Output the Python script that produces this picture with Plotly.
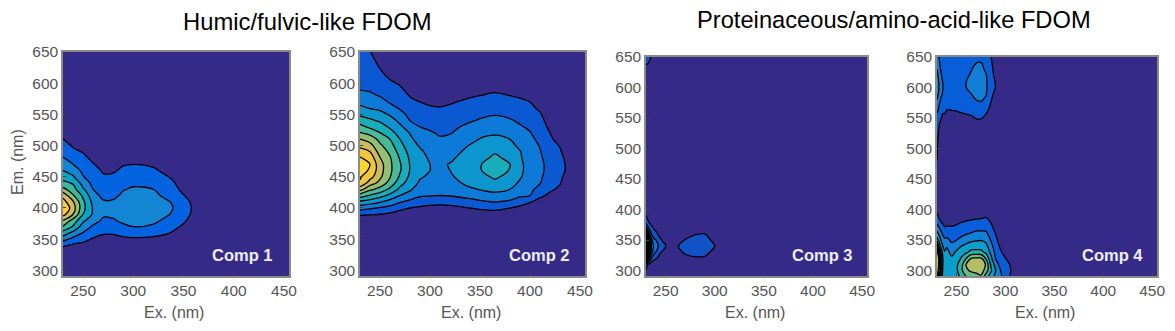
import plotly.graph_objects as go

W = 1175
H = 331

parula = [[0, "#352a87"], [0.1, "#0363e1"], [0.2, "#1485d4"], [0.3, "#06a7c6"], [0.4, "#38b99e"],
          [0.5, "#92bf73"], [0.6, "#d9ba56"], [0.7, "#fcce2e"], [0.85, "#f5e826"], [1, "#f9fb0e"]]

tick_vals_x = [250, 300, 350, 400, 450]
tick_vals_y = [300, 350, 400, 450, 500, 550, 600, 650]

# comp 1, one inner list per excitation wavelength
comp1_ex = [230, 240, 250, 260, 270, 280, 290, 300, 320, 335, 340, 350, 360, 370, 455]
comp1_em = [290, 330, 340, 350, 360, 370, 380, 390, 400, 410, 420, 430, 440, 450, 460, 470, 480, 490, 500, 510, 520, 650]
comp1_cols = [
    [0, .3, 1.2, 2.4, 3.6, 4.9, 6, 7.4, 8, 7.4, 6.7, 5.3, 4.3, 3.5, 3, 2.5, 2.05, 1.7, 1.35, 1.03, .7, 0],
    [0, 0, .8, 1.7, 2.7, 3.9, 4.6, 6, 6.5, 6.1, 5.1, 4.4, 3.9, 3.1, 2.6, 2, 1.7, 1.2, .9, .6, .3, 0],
    [0, 0, .7, 1.3, 1.95, 2.5, 3.2, 4, 4.3, 4.2, 3.8, 3.15, 2.6, 2.05, 1.75, 1.5, 1.2, .95, .6, .3, .1, 0],
    [0, 0, .4, .9, 1.4, 1.85, 2.4, 2.85, 2.9, 2.7, 2.35, 2, 1.7, 1.45, 1.3, 1.05, .8, .5, .2, 0, 0, 0],
    [0, 0, .3, .7, 1.1, 1.5, 1.85, 2.15, 2.25, 2.1, 1.75, 1.5, 1.3, 1.1, .9, .7, .5, .3, .1, 0, 0, 0],
    [0, 0, .3, .65, 1.1, 1.5, 1.93, 2.15, 2.25, 2.1, 1.8, 1.55, 1.35, 1.15, .9, .7, .45, .2, 0, 0, 0, 0],
    [0, 0, .3, .8, 1.3, 1.85, 2.15, 2.3, 2.35, 2.3, 2.15, 1.95, 1.7, 1.4, 1.15, .95, .6, .3, .05, 0, 0, 0],
    [0, 0, .3, .85, 1.45, 2, 2.25, 2.4, 2.45, 2.4, 2.25, 2.1, 1.85, 1.55, 1.25, 1, .65, .3, 0, 0, 0, 0],
    [0, 0, .3, .8, 1.3, 1.85, 2.2, 2.35, 2.4, 2.35, 2.2, 2, 1.75, 1.45, 1.15, .85, .5, .2, 0, 0, 0, 0],
    [0, 0, .1, .55, 1.05, 1.4, 1.75, 2.05, 2.15, 2.05, 1.75, 1.45, 1.2, 1, .7, .4, .1, 0, 0, 0, 0, 0],
    [0, 0, 0, .3, .9, 1.2, 1.5, 1.85, 1.98, 1.9, 1.6, 1.35, 1.1, .8, .4, .1, 0, 0, 0, 0, 0, 0],
    [0, 0, 0, 0, .3, .85, 1.15, 1.4, 1.5, 1.4, 1.05, .7, .4, .15, 0, 0, 0, 0, 0, 0, 0, 0],
    [0, 0, 0, 0, 0, .3, .6, .8, .85, .75, .5, .2, 0, 0, 0, 0, 0, 0, 0, 0, 0, 0],
    [0, 0, 0, 0, 0, 0, 0, 0, 0, 0, 0, 0, 0, 0, 0, 0, 0, 0, 0, 0, 0, 0],
    [0, 0, 0, 0, 0, 0, 0, 0, 0, 0, 0, 0, 0, 0, 0, 0, 0, 0, 0, 0, 0, 0],
]

# comp 2
comp2_ex = [230, 240, 250, 260, 270, 280, 290, 300, 310, 320, 340, 350, 365, 380, 390, 400, 410, 420, 430, 440, 455]
comp2_em = [290, 380, 390, 400, 410, 420, 430, 440, 450, 460, 470, 480, 490, 500, 510, 520, 530, 540, 550, 560, 570, 580, 590, 600, 620, 650]
comp2_cols = [
    [0, .2, 1.2, 2.4, 3.8, 5.5, 7.4, 8.9, 9.1, 9.3, 9.3, 9.1, 8.5, 7.7, 7.05, 6.1, 5.3, 4.55, 3.8, 3.2, 2.75, 2.35, 1.95, 1.85, 1.6, 1.3],
    [0, .1, 1.1, 2.15, 3.55, 4.9, 6.25, 7.5, 8.4, 8.9, 9, 8.6, 8, 7.35, 6.6, 5.7, 4.8, 4.2, 3.55, 2.95, 2.55, 2.15, 1.9, 1.75, 1.45, 1.05],
    [0, 0, 1, 1.9, 3.1, 4.4, 5.65, 6.7, 7.2, 7.4, 7.4, 7.05, 6.6, 6.2, 5.7, 5.05, 4.45, 3.85, 3.3, 2.8, 2.35, 1.95, 1.75, 1.5, 1.07, .3],
    [0, 0, .8, 1.7, 2.6, 3.75, 4.8, 5.6, 6.05, 6.2, 6.2, 6.1, 5.8, 5.4, 5, 4.4, 3.85, 3.4, 2.9, 2.35, 1.9, 1.65, 1.4, 1.15, .6, 0],
    [0, 0, .6, 1.25, 2.1, 3, 3.75, 4.4, 4.85, 5.1, 5.1, 4.9, 4.6, 4.3, 4, 3.6, 3.2, 2.75, 2.3, 1.9, 1.65, 1.4, 1.15, .9, .3, 0],
    [0, 0, .4, 1, 1.75, 2.55, 3.15, 3.5, 3.8, 3.95, 3.95, 3.85, 3.7, 3.45, 3.2, 2.95, 2.5, 2, 1.75, 1.5, 1.2, .95, .7, .4, 0, 0],
    [0, 0, .3, .85, 1.5, 2.1, 2.5, 2.85, 3.1, 3.3, 3.3, 3.25, 3.15, 2.9, 2.6, 2.3, 2, 1.75, 1.5, 1.25, 1, .7, .4, .1, 0, 0],
    [0, 0, .2, .7, 1.4, 2.05, 2.35, 2.6, 2.85, 3, 3, 2.9, 2.75, 2.55, 2.35, 2.1, 1.85, 1.6, 1.35, 1.1, .85, .55, .3, 0, 0, 0],
    [0, 0, .2, .65, 1.35, 2, 2.3, 2.55, 2.75, 2.85, 2.85, 2.7, 2.5, 2.3, 2.1, 1.9, 1.7, 1.5, 1.3, 1.05, .8, .5, .25, 0, 0, 0],
    [0, 0, .2, .7, 1.4, 2.05, 2.35, 2.6, 2.85, 3, 3.05, 2.8, 2.6, 2.45, 2.25, 1.95, 1.75, 1.55, 1.35, 1.15, .9, .6, .3, 0, 0, 0],
    [0, 0, .4, 1, 1.7, 2.3, 2.85, 3.3, 3.55, 3.7, 3.7, 3.55, 3.3, 3.05, 2.75, 2.5, 2.25, 1.9, 1.65, 1.4, 1.2, .9, .6, .3, 0, 0],
    [0, 0, .5, 1.15, 1.85, 2.5, 3.05, 3.4, 3.7, 3.95, 3.95, 3.7, 3.5, 3.25, 3.05, 2.75, 2.45, 2.1, 1.8, 1.55, 1.3, 1, .7, .35, 0, 0],
    [0, 0, .6, 1.25, 2.05, 2.7, 3.25, 3.75, 4.15, 4.4, 4.4, 4.2, 3.9, 3.45, 3.2, 2.9, 2.6, 2.3, 1.95, 1.7, 1.45, 1.15, .85, .5, 0, 0],
    [0, 0, .45, 1, 1.85, 2.45, 3, 3.4, 3.7, 3.95, 4, 3.75, 3.5, 3.25, 3, 2.7, 2.4, 2.1, 1.8, 1.55, 1.25, 1, .7, .4, 0, 0],
    [0, 0, .25, .75, 1.5, 2.15, 2.5, 2.85, 3.1, 3.2, 3.2, 3.1, 3.05, 2.8, 2.55, 2.35, 2.1, 1.85, 1.6, 1.35, 1.15, .9, .6, .3, 0, 0],
    [0, 0, .1, .45, 1.1, 2, 2.2, 2.35, 2.5, 2.6, 2.6, 2.55, 2.45, 2.35, 2.2, 2.05, 1.85, 1.65, 1.45, 1.2, 1, .7, .4, .15, 0, 0],
    [0, 0, 0, .2, .65, 1.2, 1.7, 2.05, 2.15, 2.2, 2.2, 2.15, 2.05, 1.95, 1.8, 1.6, 1.45, 1.3, 1.1, .85, .6, .3, .1, 0, 0, 0],
    [0, 0, 0, 0, .3, .8, 1.15, 1.35, 1.55, 1.7, 1.7, 1.55, 1.45, 1.3, 1.15, 1, .8, .6, .4, .2, 0, 0, 0, 0, 0, 0],
    [0, 0, 0, 0, 0, .3, .85, 1.05, 1.15, 1.25, 1.25, 1.2, 1.1, .95, .7, .45, .2, 0, 0, 0, 0, 0, 0, 0, 0, 0],
    [0, 0, 0, 0, 0, 0, .1, .4, .6, .75, .75, .65, .4, .2, 0, 0, 0, 0, 0, 0, 0, 0, 0, 0, 0, 0],
    [0, 0, 0, 0, 0, 0, 0, 0, 0, 0, 0, 0, 0, 0, 0, 0, 0, 0, 0, 0, 0, 0, 0, 0, 0, 0],
]

# comp 3, the peak at the left edge is so steep the lines run together
comp3_ex = [230, 232, 234, 236, 238, 240, 245, 250, 255, 263, 270, 280, 290, 295, 300, 305, 455]
comp3_em = [290, 300, 310, 320, 330, 340, 350, 360, 370, 380, 390, 400, 630, 640, 650]
comp3_cols = [
    [0, 1.05, 2, 9, 13.8, 13.9, 13, 9, 3.5, 1.5, 1, .6, 0, 1.3, 1.6],
    [0, .5, .9, 5, 8, 9, 8, 5, 2.2, 1.1, .6, 0, 0, 1.1, 1.4],
    [0, 0, .7, 3, 5, 5.5, 5, 2.8, 1.5, .8, .2, 0, 0, .7, 1.2],
    [0, 0, .4, 1.8, 3.2, 3.6, 3.1, 1.8, 1.15, .5, 0, 0, 0, 0, .9],
    [0, 0, .3, 1.3, 2.4, 2.8, 2.2, 1.4, .9, .2, 0, 0, 0, 0, 0],
    [0, 0, 0, 1.1, 2, 2.4, 2, 1.2, .75, .1, 0, 0, 0, 0, 0],
    [0, 0, 0, .6, 1.05, 1.6, 1.1, .6, .2, 0, 0, 0, 0, 0, 0],
    [0, 0, 0, .2, .6, 1.02, .5, .1, 0, 0, 0, 0, 0, 0, 0],
    [0, 0, 0, 0, .2, .5, 0, 0, 0, 0, 0, 0, 0, 0, 0],
    [0, 0, 0, .3, .7, 1, .7, .1, 0, 0, 0, 0, 0, 0, 0],
    [0, 0, 0, .6, 1.2, 1.4, 1.05, .5, 0, 0, 0, 0, 0, 0, 0],
    [0, 0, 0, .9, 1.3, 1.5, 1.3, .95, .3, 0, 0, 0, 0, 0, 0],
    [0, 0, 0, .85, 1.25, 1.45, 1.3, 1, .4, 0, 0, 0, 0, 0, 0],
    [0, 0, 0, .6, 1, 1.2, 1.05, .7, .2, 0, 0, 0, 0, 0, 0],
    [0, 0, 0, .2, .6, 1, .6, .3, 0, 0, 0, 0, 0, 0, 0],
    [0, 0, 0, 0, 0, .4, 0, 0, 0, 0, 0, 0, 0, 0, 0],
    [0, 0, 0, 0, 0, 0, 0, 0, 0, 0, 0, 0, 0, 0, 0],
]

# comp 4
comp4_ex = [230, 232, 234, 236, 238, 240, 245, 250, 255, 260, 265, 270, 275, 280, 285, 290, 295, 300, 305, 310, 455]
comp4_em = [290, 300, 310, 320, 330, 340, 350, 360, 370, 380, 390, 400, 420, 470, 480, 500, 520,
            540, 550, 560, 570, 580, 590, 600, 610, 620, 630, 640, 650]
comp4_cols = [
    [12, 14, 14, 14, 12, 8, 4.5, 3.4, 2.5, 1.7, 1.2, .7, .5, .9, 1, 1.1, 1.2, 1.4, 1.6, 2.1, 2.5, 3, 3.4, 3.6, 3.5, 3.3, 3, 2.8, 2.6],
    [7, 9, 10, 10, 8, 5, 3.6, 2.9, 2.1, 1.3, .8, .4, .2, .5, .6, .7, .8, 1.05, 1.4, 1.7, 2, 2.4, 2.8, 3, 2.9, 2.7, 2.4, 2.2, 2],
    [5, 5.5, 6, 6, 5, 3.8, 3, 2.3, 1.7, 1, .6, .2, 0, 0, 0, .1, .4, .8, 1.05, 1.3, 1.6, 1.9, 2.2, 2.4, 2.3, 2.1, 1.9, 1.7, 1.6],
    [3.6, 3.8, 4, 4, 3.6, 3, 2.4, 1.9, 1.35, .8, .4, 0, 0, 0, 0, 0, .1, .5, .85, 1.05, 1.3, 1.6, 1.9, 2.05, 1.95, 1.75, 1.55, 1.45, 1.4],
    [3, 3.2, 3.4, 3.4, 3.1, 2.6, 2.15, 1.6, 1.1, .5, 0, 0, 0, 0, 0, 0, 0, .4, .8, 1.1, 1.25, 1.4, 1.55, 1.6, 1.55, 1.45, 1.4, 1.35, 1.3],
    [3, 3.1, 3.3, 3.4, 3.3, 2.9, 2.2, 1.7, 1.15, .6, .1, 0, 0, 0, 0, 0, 0, .3, .65, .9, 1.15, 1.3, 1.4, 1.45, 1.45, 1.4, 1.35, 1.3, 1.25],
    [3.5, 3.4, 3.3, 3.15, 2.7, 2.2, 1.85, 1.55, 1.1, .7, .4, .1, 0, 0, 0, 0, 0, .2, .6, .95, 1.15, 1.3, 1.4, 1.45, 1.45, 1.4, 1.35, 1.3, 1.25],
    [3.4, 3.8, 3.8, 3.4, 3.15, 2.6, 2, 1.6, 1.2, .8, .4, .1, 0, 0, 0, 0, 0, .2, .6, .97, 1.15, 1.3, 1.45, 1.55, 1.55, 1.5, 1.45, 1.4, 1.35],
    [4.4, 4.8, 4.6, 4.1, 3.55, 3, 2.3, 1.75, 1.35, .95, .5, .2, 0, 0, 0, 0, 0, .25, .65, 1.05, 1.25, 1.4, 1.6, 1.8, 1.85, 1.75, 1.65, 1.5, 1.4],
    [5, 5.8, 6.1, 5, 3.85, 3.25, 2.6, 1.95, 1.5, 1.05, .6, .2, 0, 0, 0, 0, 0, .3, .75, 1.15, 1.35, 1.6, 1.85, 2, 2, 1.85, 1.7, 1.55, 1.45],
    [5.3, 6.2, 6.5, 6, 4.3, 3.5, 2.8, 2.1, 1.6, 1.15, .65, .2, 0, 0, 0, 0, 0, .4, .85, 1.2, 1.45, 1.75, 2, 2.2, 2.2, 2.1, 1.95, 1.75, 1.55],
    [5.5, 6.4, 6.7, 6.1, 4.35, 3.55, 2.9, 2.25, 1.75, 1.2, .7, .3, 0, 0, 0, 0, 0, .5, 1.05, 1.35, 1.65, 2, 2.2, 2.35, 2.35, 2.25, 2.2, 2, 1.65],
    [5.8, 6.6, 6.8, 6.15, 4.3, 3.5, 2.95, 2.25, 1.75, 1.25, .75, .3, 0, 0, 0, 0, 0, .5, 1.1, 1.4, 1.75, 2.1, 2.3, 2.4, 2.4, 2.35, 2.25, 2.05, 1.7],
    [4.5, 5.5, 5.9, 4.9, 3.8, 3.3, 2.75, 2.2, 1.75, 1.35, .85, .4, 0, 0, 0, 0, 0, .3, .75, 1.15, 1.5, 1.85, 2.1, 2.2, 2.2, 2.1, 1.85, 1.55, 1.35],
    [3.5, 4.2, 3.9, 3.3, 2.8, 2.35, 1.95, 1.65, 1.3, .95, .5, .1, 0, 0, 0, 0, 0, .1, .4, .65, .9, 1.1, 1.2, 1.25, 1.25, 1.2, 1.15, 1.1, 1.02],
    [2.7, 3, 2.5, 1.95, 1.7, 1.45, 1.2, 1, .6, .25, 0, 0, 0, 0, 0, 0, 0, 0, 0, 0, .1, .5, .8, .98, .95, .85, .8, .7, .6],
    [2.2, 2, 1.6, 1.4, 1.1, .85, .6, .3, 0, 0, 0, 0, 0, 0, 0, 0, 0, 0, 0, 0, 0, 0, 0, .3, .2, 0, 0, 0, 0],
    [1.5, 1.5, 1.3, 1.02, .7, .4, .1, 0, 0, 0, 0, 0, 0, 0, 0, 0, 0, 0, 0, 0, 0, 0, 0, 0, 0, 0, 0, 0, 0],
    [.95, 1.05, .95, .65, .3, 0, 0, 0, 0, 0, 0, 0, 0, 0, 0, 0, 0, 0, 0, 0, 0, 0, 0, 0, 0, 0, 0, 0, 0],
    [.4, .4, .3, .1, 0, 0, 0, 0, 0, 0, 0, 0, 0, 0, 0, 0, 0, 0, 0, 0, 0, 0, 0, 0, 0, 0, 0, 0, 0],
    [0, 0, 0, 0, 0, 0, 0, 0, 0, 0, 0, 0, 0, 0, 0, 0, 0, 0, 0, 0, 0, 0, 0, 0, 0, 0, 0, 0, 0],
]

# plotly spreads the colorscale over start..end, so top also sets the colour step
panels = [
    dict(ex=comp1_ex, em=comp1_em, cols=comp1_cols, top=10, left=63, right=289, y0=52, y1=276, name="Comp 1", lx=242),
    dict(ex=comp2_ex, em=comp2_em, cols=comp2_cols, top=12, left=360, right=585, y0=52, y1=276, name="Comp 2", lx=539.5),
    dict(ex=comp3_ex, em=comp3_em, cols=comp3_cols, top=14, left=646, right=867, y0=57, y1=276, name="Comp 3", lx=822),
    dict(ex=comp4_ex, em=comp4_em, cols=comp4_cols, top=11, left=937, right=1157, y0=57, y1=276, name="Comp 4", lx=1112.5),
]

fig = go.Figure()
layout = dict(
    width=W, height=H, margin=dict(l=0, r=0, t=0, b=0, autoexpand=False), autosize=False,
    paper_bgcolor="white", plot_bgcolor="#352a87", showlegend=False,
    font=dict(family="Liberation Sans, Arial, sans-serif", size=15.5, color="#555555"),
)
annos = []


def text_at(text, x, y, size, color, angle=0):
    return dict(text=text, xref="paper", yref="paper", x=x / W, y=1 - y / H, xanchor="center", yanchor="middle",
                showarrow=False, textangle=angle, font=dict(size=size, color=color))


for i, p in enumerate(panels):
    name = "" if i == 0 else str(i + 1)
    z = [list(r) for r in zip(*p["cols"])]
    fig.add_trace(go.Contour(
        x=p["ex"], y=p["em"], z=z,
        xaxis="x" + name, yaxis="y" + name,
        colorscale=parula, showscale=False,
        contours=dict(start=1, end=p["top"], size=1, coloring="fill"),
        line=dict(color="black", width=1.3),
    ))
    layout["xaxis" + name] = dict(
        domain=[p["left"] / W, p["right"] / W], range=[230, 455], anchor="y" + name,
        tickvals=tick_vals_x, ticks="inside", ticklen=3, tickcolor="#444444",
        showline=True, mirror=True, linecolor="#8a8a8a", linewidth=1.5, showgrid=False, zeroline=False,
    )
    layout["yaxis" + name] = dict(
        domain=[1 - p["y1"] / H, 1 - p["y0"] / H], range=[291, 650], anchor="x" + name,
        tickvals=tick_vals_y, ticks="inside", ticklen=3, tickcolor="#444444",
        showline=True, mirror=True, linecolor="#8a8a8a", linewidth=1.5, showgrid=False, zeroline=False,
    )
    annos.append(text_at("<b>" + p["name"] + "</b>", p["lx"], 255, 16.5, "#eeeeff"))
    annos.append(text_at("Ex. (nm)", (p["left"] + p["right"]) / 2 - 2, 312, 16, "#555555"))

annos.append(text_at("Em. (nm)", 18, 162, 16, "#555555", angle=-90))
annos.append(text_at("Humic/fulvic-like FDOM", 307, 21, 23.8, "black"))
annos.append(text_at("Proteinaceous/amino-acid-like FDOM", 894, 20, 23.7, "black"))
layout["annotations"] = annos
fig.update_layout(**layout)

fig.write_html("out.html", config={"displayModeBar": False}, post_script="document.body.style.margin='0';")
